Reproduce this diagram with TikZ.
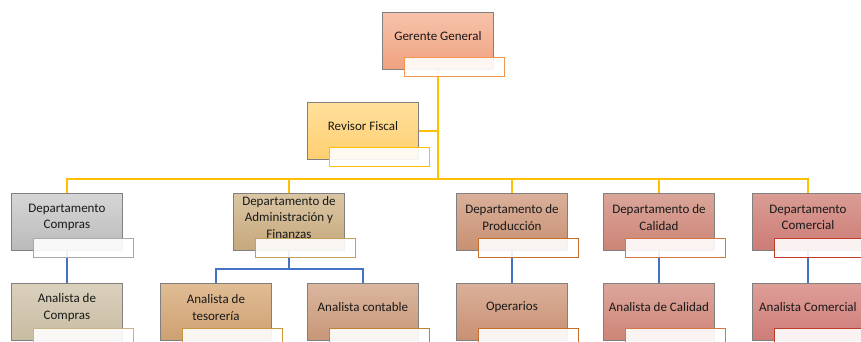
\documentclass[tikz,border=0pt]{standalone}
\usepackage{fontspec}
\setmainfont{Carlito}
\usetikzlibrary{backgrounds}
\definecolor{yel}{RGB}{255,192,0}
\definecolor{blu}{RGB}{68,114,196}
\definecolor{bord}{RGB}{128,128,128}
\definecolor{ggT}{RGB}{246,194,170}\definecolor{ggB}{RGB}{240,162,128}\definecolor{ggL}{RGB}{245,150,80}
\definecolor{rfT}{RGB}{255,224,156}\definecolor{rfB}{RGB}{255,207,112}
\definecolor{dcT}{RGB}{214,214,214}\definecolor{dcB}{RGB}{186,186,186}\definecolor{dcL}{RGB}{170,170,170}
\definecolor{daT}{RGB}{218,198,164}\definecolor{daB}{RGB}{198,168,124}\definecolor{daL}{RGB}{195,160,95}
\definecolor{dpT}{RGB}{218,176,154}\definecolor{dpB}{RGB}{200,144,114}\definecolor{dpL}{RGB}{200,110,40}
\definecolor{dqT}{RGB}{218,166,154}\definecolor{dqB}{RGB}{204,132,118}\definecolor{dqL}{RGB}{210,120,70}
\definecolor{dmT}{RGB}{218,156,148}\definecolor{dmB}{RGB}{204,124,118}\definecolor{dmL}{RGB}{190,60,40}
\definecolor{acT}{RGB}{218,208,188}\definecolor{acB}{RGB}{200,188,162}\definecolor{acL}{RGB}{200,180,130}
\definecolor{atT}{RGB}{224,188,148}\definecolor{atB}{RGB}{206,160,114}\definecolor{atL}{RGB}{200,150,60}
\definecolor{anT}{RGB}{218,182,158}\definecolor{anB}{RGB}{200,150,120}\definecolor{anL}{RGB}{195,130,50}
\definecolor{aqT}{RGB}{220,166,156}\definecolor{aqB}{RGB}{206,132,118}
\definecolor{amT}{RGB}{222,158,152}\definecolor{amB}{RGB}{206,124,120}
\tikzset{
  orgbox/.style={draw=bord,line width=0.9pt,minimum width=111pt,minimum height=57pt,inner sep=0pt,anchor=north west},
  orgtxt/.style={align=center,inner sep=0pt,font=\fontsize{13}{16.5}\selectfont,text=black!90},
  orglbl/.style={fill=white,fill opacity=0.9,line width=1pt,minimum width=100pt,minimum height=19pt,inner sep=0pt,anchor=north west},
  yline/.style={draw=yel,line width=2.6pt},
  bline/.style={draw=blu,line width=2.6pt}
}
\newcommand{\orgnode}[7]{%
  \node[orgbox,top color=#4,bottom color=#5] (#1) at (#2,#3) {};
  \node[orgtxt] (#1t) at ([yshift=4.5pt]#1.center) {#7};
  \node[orglbl,draw=#6] (#1l) at ([xshift=22pt,yshift=13pt]#1.south west) {};
}
\begin{document}
\begin{tikzpicture}[x=1pt,y=-1pt]
\useasboundingbox (0,0) rectangle (861,341);
% level 0 / 1
\orgnode{gg}{382}{12}{ggT}{ggB}{ggL}{Gerente General}
\orgnode{rf}{307}{102}{rfT}{rfB}{yel}{Revisor Fiscal}
% level 2
\orgnode{dc}{11}{193}{dcT}{dcB}{dcL}{Departamento\\Compras}
\orgnode{da}{233}{193}{daT}{daB}{daL}{\fontsize{13}{15}\selectfont Departamento de\\Administración y\\Finanzas}
\orgnode{dp}{456}{193}{dpT}{dpB}{dpL}{Departamento de\\Producción}
\orgnode{dq}{603}{193}{dqT}{dqB}{dqL}{Departamento de\\Calidad}
\orgnode{dm}{752}{193}{dmT}{dmB}{dmL}{Departamento\\Comercial}
% level 3
\orgnode{ac}{11}{283}{acT}{acB}{acL}{Analista de\\Compras}
\orgnode{at}{160}{283}{atT}{atB}{atL}{Analista de\\tesorería}
\orgnode{an}{307}{283}{anT}{anB}{anL}{Analista contable}
\orgnode{op}{456}{283}{dpT}{dpB}{dpL}{Operarios}
\orgnode{aq}{603}{283}{aqT}{aqB}{dqL}{Analista de Calidad}
\orgnode{am}{752}{283}{amT}{amB}{dmL}{Analista Comercial}
% connectors
\coordinate (trunk) at (gg.south |- 0,179);
\coordinate (ajoin) at (da.south |- 0,269);
\begin{scope}[on background layer]
  \draw[yline] (gg.south) -- (trunk);
  \draw[yline] (rf.east) -- (rf.east -| gg.south);
  \draw[yline] (dc.north) |- (trunk) -| (dm.north);
  \draw[yline] (da.north) -- (da.north |- trunk);
  \draw[yline] (dp.north) -- (dp.north |- trunk);
  \draw[yline] (dq.north) -- (dq.north |- trunk);
  \draw[bline] (dc.south) -- (ac.north);
  \draw[bline] (da.south) -- (ajoin);
  \draw[bline] (at.north) |- (ajoin) -| (an.north);
  \draw[bline] (dp.south) -- (op.north);
  \draw[bline] (dq.south) -- (aq.north);
  \draw[bline] (dm.south) -- (am.north);
\end{scope}
\end{tikzpicture}
\end{document}
